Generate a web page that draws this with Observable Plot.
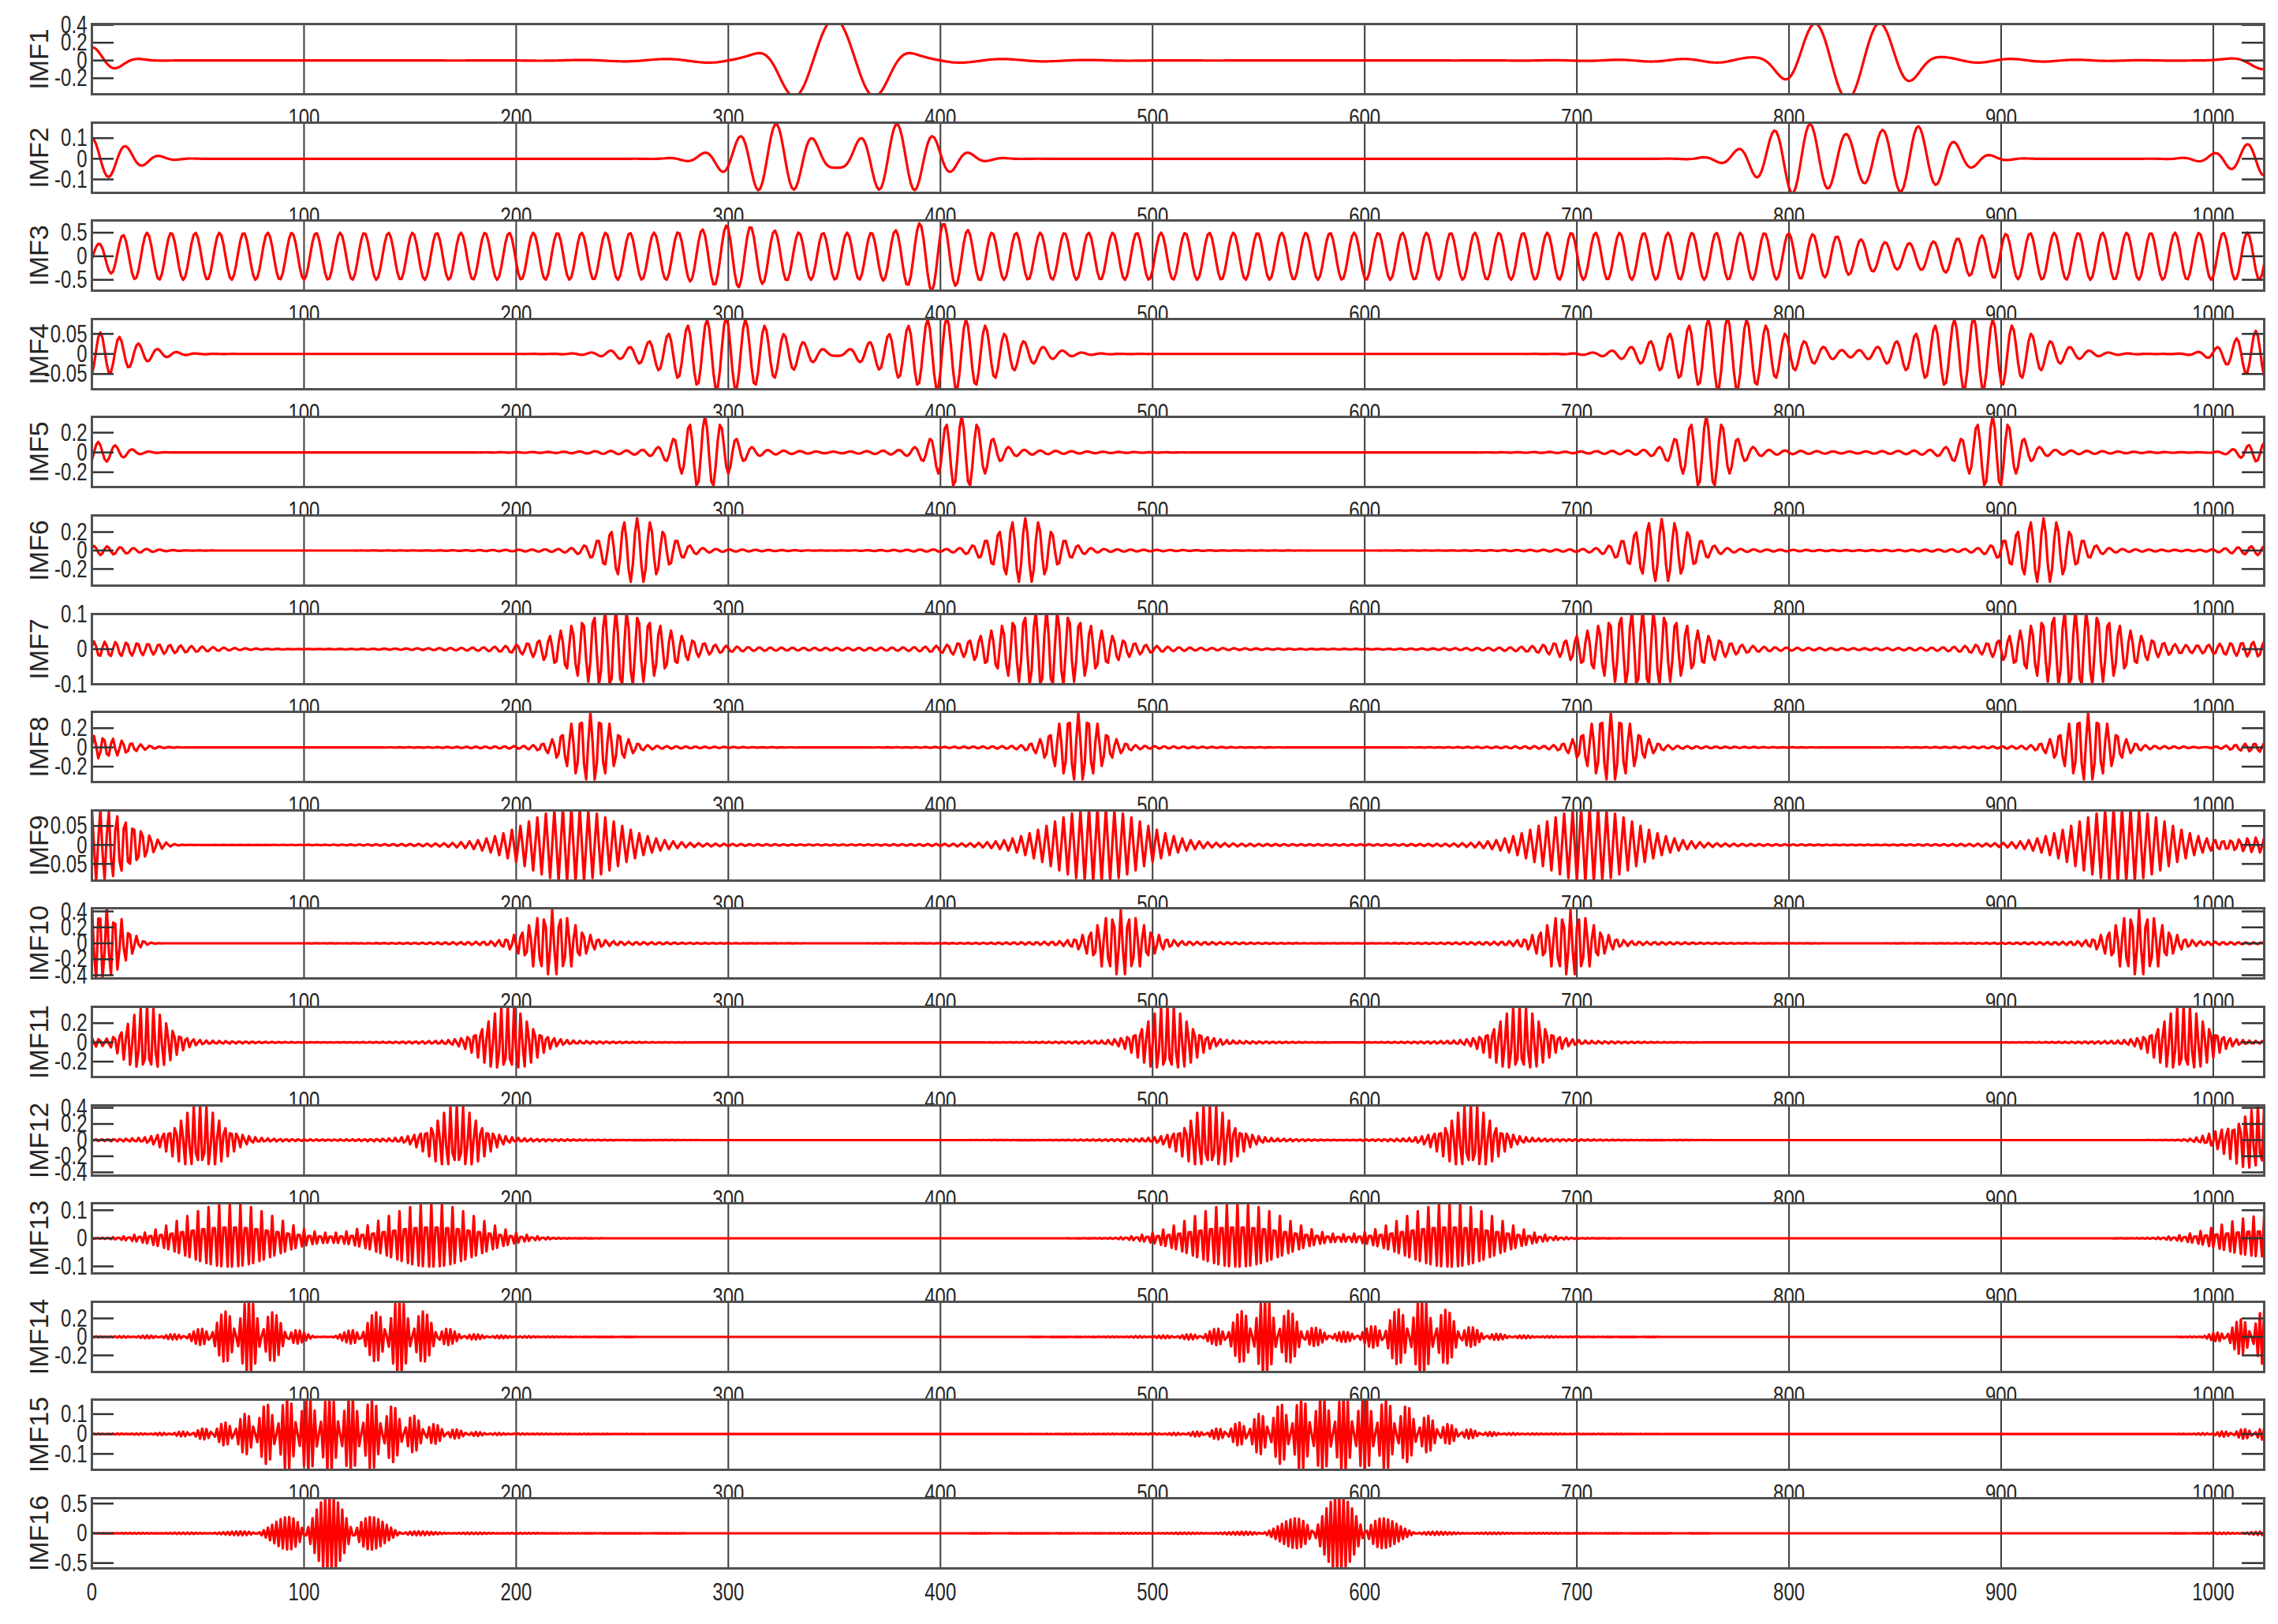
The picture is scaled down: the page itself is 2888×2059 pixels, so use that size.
<!DOCTYPE html>
<html><head><meta charset="utf-8">
<script src="https://cdn.jsdelivr.net/npm/d3@7"></script>
<script src="https://cdn.jsdelivr.net/npm/@observablehq/plot@0.6"></script>
<style>
body{margin:0;background:#fff;}
#chart{position:relative;width:2888px;height:2059px;background:#fff;overflow:hidden;}
#chart svg{position:absolute;left:0;}
</style></head><body><div id="chart"></div>
<script>
// ---- data ----
const xTicks = [0, 100, 200, 300, 400, 500, 600, 700, 800, 900, 1000];
const xDomain = [0, 1024];
const imfLabels = ["IMF1","IMF2","IMF3","IMF4","IMF5","IMF6","IMF7","IMF8","IMF9","IMF10","IMF11","IMF12","IMF13","IMF14","IMF15","IMF16"];
const yDomains = [
  [-0.38, 0.41], [-0.165, 0.175], [-0.73, 0.76], [-0.088, 0.087],
  [-0.35, 0.36], [-0.38, 0.38], [-0.1, 0.1], [-0.36, 0.37],
  [-0.094, 0.091], [-0.44, 0.44], [-0.36, 0.37], [-0.44, 0.43],
  [-0.125, 0.125], [-0.38, 0.38], [-0.18, 0.173], [-0.59, 0.59]
];
const yTicks = [
  [-0.2, 0, 0.2, 0.4], [-0.1, 0, 0.1], [-0.5, 0, 0.5], [-0.05, 0, 0.05],
  [-0.2, 0, 0.2], [-0.2, 0, 0.2], [-0.1, 0, 0.1], [-0.2, 0, 0.2],
  [-0.05, 0, 0.05], [-0.4, -0.2, 0, 0.2, 0.4], [-0.2, 0, 0.2], [-0.4, -0.2, 0, 0.2, 0.4],
  [-0.1, 0, 0.1], [-0.2, 0, 0.2], [-0.1, 0, 0.1], [-0.5, 0, 0.5]
];
// wave packets: [centre, amplitude, half-width, period, peak position, envelope power]
const imf1 = [[0,0.15,11,24,0,2],[350,0.43,26,40,350,4],[350,0.04,60,40,350,2],[828,0.40,27,31,812,4],[828,0.04,60,31,812,2],[1024,-0.1,10,40,1024,2]];
const imf2 = [[0,0.1,16,16,0,2],[322.5,0.17,18,17,322.5,2],[379.5,0.17,18,17,379.5,2],[805,0.17,18,17,810,2],[857,0.16,18,17,810,2],[1024,0.08,16,15.5,1016,2]];
const imf3 = [[512,0.5,1e9,11.38,26,2],[0,-0.25,8,11.38,26,2],[303,0.16,12,11.38,26,2],[396,0.24,10,11.38,26,2],[855,-0.22,22,11.38,26,2]];
const imf4 = [[0,0.055,18,9,4,2],[299,0.092,25,9.1,299,2],[403,0.092,25,9.1,403,2],[771,0.092,25,9.1,771,2],[887,0.092,25,9.1,887,2],[1024,0.06,14,9.1,1020,2]];
const imf5 = [[0,0.11,12,8,3,2],[289,0.34,10,7.4,289,2],[289,0.03,40,7.4,289,2],[410,0.34,10,7.4,410,2],[410,0.03,40,7.4,410,2],[761,0.34,10,7.4,761,2],[761,0.03,40,7.4,761,2],[896,0.34,10,7.4,896,2],[896,0.03,40,7.4,896,2],[1024,0.1,10,7.4,1024,2]];
const imf6 = [[0,0.05,18,6.2,1,2],[257,0.33,12,6.2,257,2],[257,0.02,45,6.2,257,2],[440,0.33,12,6.2,440,2],[440,0.02,45,6.2,440,2],[740,0.32,12,6.2,740,2],[740,0.02,45,6.2,740,2],[920,0.33,12,6.2,920,2],[920,0.02,45,6.2,920,2],[1024,0.05,15,6.2,1024,2]];
const imf7 = [[0,0.022,35,5.1,1,2],[247,0.105,20,5.2,247,2],[247,0.008,60,5.2,247,2],[450,0.105,20,5.2,450,2],[450,0.008,60,5.2,450,2],[731,0.105,20,5.2,731,2],[731,0.008,60,5.2,731,2],[935,0.105,20,5.2,935,2],[935,0.008,60,5.2,935,2],[1024,0.02,20,5.2,1024,2]];
const imf8 = [[0,0.12,14,4.4,1,2],[235,0.34,10,4.5,235,2],[235,0.02,40,4.5,235,2],[465,0.34,10,4.5,465,2],[465,0.02,40,4.5,465,2],[716,0.34,10,4.5,716,2],[716,0.02,40,4.5,716,2],[941,0.34,10,4.5,941,2],[941,0.02,40,4.5,941,2],[1024,0.05,15,4.5,1024,2]];
const imf9 = [[0,0.095,20,3.9,0,3],[226,0.092,20,4.0,226,2],[226,0.006,60,4.0,226,2],[474,0.092,20,4.0,474,2],[474,0.006,60,4.0,474,2],[706,0.092,20,4.0,706,2],[706,0.006,60,4.0,706,2],[957,0.092,20,4.0,957,2],[957,0.006,60,4.0,957,2],[1024,0.02,15,4.0,1024,2]];
const imf10 = [[0,0.5,14,3.5,0,3],[217,0.39,10,3.6,217,2],[217,0.03,40,3.6,217,2],[485,0.39,10,3.6,485,2],[485,0.03,40,3.6,485,2],[697,0.39,10,3.6,697,2],[697,0.03,40,3.6,697,2],[965,0.39,10,3.6,965,2],[965,0.03,40,3.6,965,2]];
const imf11 = [[0,0.07,8,3.1,0,2],[26,0.36,9,3.1,26,2],[26,0.025,35,3.1,26,2],[196,0.36,10,3.1,196,2],[196,0.025,35,3.1,196,2],[507,0.36,10,3.1,507,2],[507,0.025,35,3.1,507,2],[673,0.36,10,3.1,673,2],[673,0.025,35,3.1,673,2],[986,0.36,10,3.1,986,2],[986,0.025,35,3.1,986,2]];
const imf12 = [[51,0.41,10,2.9,51,2],[51,0.03,35,2.9,51,2],[172,0.41,10,2.9,172,2],[172,0.03,35,2.9,172,2],[527,0.41,10,2.9,527,2],[527,0.03,35,2.9,527,2],[650,0.41,10,2.9,650,2],[650,0.03,35,2.9,650,2],[1024,0.45,14,2.9,1024,2]];
const imf13 = [[65,0.125,21,2.5,65,2],[160,0.125,21,2.5,160,2],[540,0.125,21,2.5,540,2],[640,0.125,21,2.5,640,2],[1024,0.08,20,2.5,1024,2]];
const imf14 = [[74,0.38,12,2.18,74,2],[74,0.04,35,2.18,74,2],[145,0.38,12,2.18,145,2],[145,0.04,35,2.18,145,2],[553,0.38,12,2.18,553,2],[553,0.04,35,2.18,553,2],[627,0.38,13,2.18,627,2],[627,0.04,35,2.18,627,2],[1024,0.3,12,2.18,1024,2]];
const imf15 = [[92,0.15,20,2.222,92,2],[130,0.15,20,2.222,92,2],[111,0.01,60,2.222,92,2],[570,0.15,20,2.222,570,2],[608,0.15,20,2.222,570,2],[589,0.01,60,2.222,570,2],[1024,0.03,15,2.222,1024,2]];
const imf16 = [[112,0.6,16,2.0909,112,2],[112,0.025,60,2.0909,112,2],[588,0.6,16,2.085,588,2],[588,0.025,60,2.085,588,2],[1024,0.03,15,2.09,1024,2]];
const imfs = [imf1,imf2,imf3,imf4,imf5,imf6,imf7,imf8,imf9,imf10,imf11,imf12,imf13,imf14,imf15,imf16];

// ---- drawing ----
const W = 2888, ML = 116, MR = 18, PH = 89, MT = 6, MB = 52, TOP0 = 30, PITCH = 124.6, TICK = 28;
const tickFont = '"Liberation Sans", Arial, sans-serif';
const NARROW = 0.75;
const sampleIdx = d3.range(0, 1025);

function signal(packets) {
  return sampleIdx.map(x => ({
    x,
    y: d3.sum(packets, ([c, a, s, T, r, p]) =>
      a * Math.exp(-0.5 * Math.pow(Math.abs(x - c) / s, p)) * Math.cos(2 * Math.PI * (x - r) / T))
  }));
}

const chart = document.getElementById("chart");
imfs.forEach((packets, i) => {
  const last = i === imfs.length - 1;
  const plot = Plot.plot({
    width: W, height: MT + PH + MB,
    marginLeft: ML, marginRight: MR, marginTop: MT, marginBottom: MB,
    x: {domain: xDomain},
    y: {domain: yDomains[i]},
    style: {background: "none", fontFamily: tickFont, fontSize: "32px", color: "#262626", overflow: "visible"},
    marks: [
      Plot.frame({fill: "white", stroke: null}),
      Plot.ruleX(xTicks.filter(d => d > 0), {stroke: "#3c3c3c", strokeWidth: 2}),
      Plot.line(signal(packets), {x: "x", y: "y", stroke: "#ff0000", strokeWidth: 3.2, clip: true}),
      Plot.tickY(yTicks[i], {insetRight: W - ML - MR - TICK, stroke: "#333", strokeWidth: 2.5}),
      Plot.tickY(yTicks[i], {insetLeft: W - ML - MR - TICK, stroke: "#333", strokeWidth: 2.5}),
      Plot.axisY({ticks: yTicks[i], tickSize: 0, tickPadding: 6, tickFormat: d => String(d), label: null}),
      Plot.axisX({ticks: last ? xTicks : xTicks.filter(d => d > 0), tickSize: 0, tickPadding: 18, tickFormat: d => String(d), label: null}),
      Plot.text([imfLabels[i]], {text: d => d, frameAnchor: "left", textAnchor: "middle", lineAnchor: "middle", dx: -66, rotate: -90, fontSize: 34, fill: "#262626"}),
      Plot.frame({stroke: "#505050", strokeWidth: 3})
    ]
  });
  plot.style.top = (TOP0 + i * PITCH - MT) + "px";
  chart.append(plot);
  // MATLAB-like condensed tick labels
  plot.querySelectorAll('g[aria-label="x-axis tick label"] text, g[aria-label="y-axis tick label"] text').forEach(t => {
    const L = t.getComputedTextLength();
    t.setAttribute("textLength", (L * NARROW).toFixed(1));
    t.setAttribute("lengthAdjust", "spacingAndGlyphs");
  });
});
</script>
</body></html>
